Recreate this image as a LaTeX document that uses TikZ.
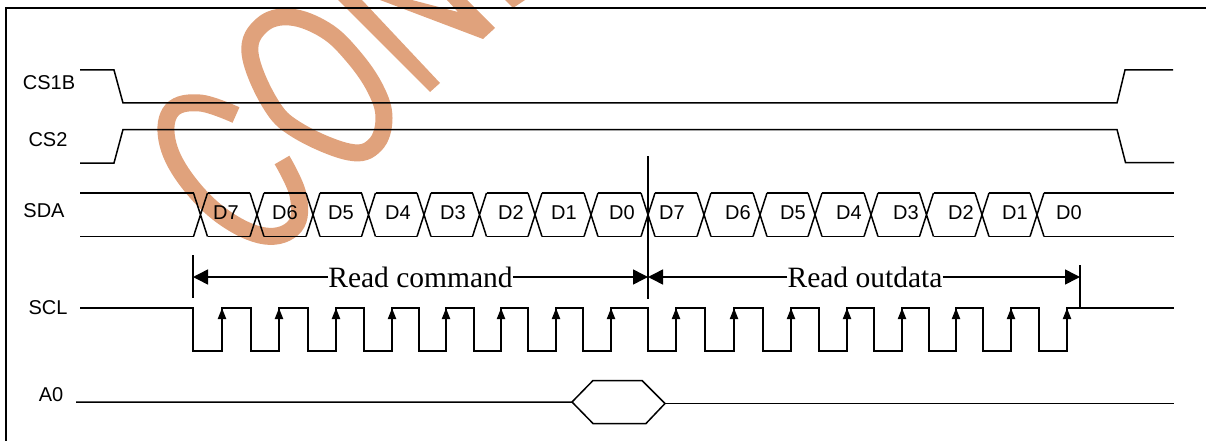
\documentclass[tikz,border=0pt]{standalone}
\usepackage{fontspec}
\setmainfont{Liberation Sans}
\newfontfamily\readfont{Liberation Serif}
\definecolor{stampcol}{RGB}{224, 162, 124}
\usetikzlibrary{arrows.meta, positioning}

\begin{document}
\begin{tikzpicture}[
  x=1pt, y=-1pt,
  sigline/.style={draw, line width=1.5pt, line join=miter},
  stampline/.style={draw=stampcol, line width=17pt},
  siglabel/.style={inner sep=0pt, font=\fontsize{20}{22}\selectfont},
  readlabel/.style={inner sep=0pt, font=\readfont\fontsize{29.5}{32}\selectfont},
  spanarrow/.style={line width=1.5pt, -{Triangle[length=15pt, width=15pt]}},
  edgearrow/.style={line width=2pt, -{Triangle[length=11pt, width=8pt]}}
]
  \useasboundingbox (0,0) rectangle (1206,441);

  % stamp behind the signals
  \draw[stampline] plot[smooth, tension=0.65] coordinates {(236,115) (200,103) (172,110) (167,140) (185,178) (222,216) (265,236) (295,226) (298,195) (282,160)};
  \draw[stampline] plot[smooth cycle, tension=0.65] coordinates {(250,53) (262,25) (290,17) (325,30) (352,55) (375,88) (384,118) (375,145) (349,152) (297,130) (270,103)};
  \fill[stampcol] (338,0) -- (362,0) -- (440,83) -- (430,92) -- cycle;
  \fill[stampcol] (483,39) -- (380,0) -- (412,0) -- (458,12) -- (447,0) -- (467,0) -- (495,28) -- cycle;
  \fill[stampcol] (505,0) -- (525,0) -- (513,8) -- cycle;

  % frame
  \draw[line width=1.7pt] (6,441) -- (6,8) -- (1206,8);

  % labels
  \node[siglabel] (cs1b) at (49,83) {CS1B};
  \node[siglabel] (cs2) at (48,140) {CS2};
  \node[siglabel] (sda) at (44,211) {SDA};
  \node[siglabel] (scl) at (48,308) {SCL};
  \node[siglabel] (a0) at (51,395) {A0};

  % chip selects
  \draw[sigline] (80,70) -- (114,70) -- (123,103) -- (1117,103) -- (1125,70) -- (1173,70);
  \draw[sigline] (80,163) -- (114,163) -- (123,129.5) -- (1117,129.5) -- (1125.5,162.5) -- (1174,162.5);

  % data bus
  \draw[sigline] (80,193) -- (193.5,193) (80,236.5) -- (193.5,236.5);
  \draw[sigline] (1044,193) -- (1174,193) (1044,236.5) -- (1174,236.5);
  \foreach \xa/\xb in {200.5/257, 257/313, 313/368.5, 368.5/424, 424/479.5, 479.5/535, 535/591, 591/648, 648/704, 704/760, 760/815, 815/871, 871/926.5, 926.5/982, 982/1037} {
    \draw[sigline] (\xa+7,193) -- (\xb-7,193) (\xa+7,236.5) -- (\xb-7,236.5);
  }
  \foreach \xa in {200.5, 257, 313, 368.5, 424, 479.5, 535, 591, 648, 704, 760, 815, 871, 926.5, 982, 1037} {
    \draw[sigline] (\xa-7,193) -- (\xa+7,236.5) (\xa+7,193) -- (\xa-7,236.5);
  }
  \foreach \xa/\txt in {226/D7, 285/D6, 341/D5, 398/D4, 453/D3, 511/D2, 564/D1, 622/D0, 672/D7, 738/D6, 793/D5, 849/D4, 906/D3, 961/D2, 1015/D1, 1069/D0} {
    \node[siglabel] (bit\xa) at (\xa,213) {\txt};
  }

  % read spans
  \draw[line width=1.5pt] (193,255) -- (193,298);
  \draw[line width=1.5pt] (648,156) -- (648,299);
  \draw[line width=1.5pt] (1080,265) -- (1080,308);
  \coordinate (cmdstart) at (193,277);
  \coordinate (cmdend) at (648,277);
  \coordinate (outend) at (1080,277);
  \node[readlabel] (cmdtext) at (420.5,277) {Read command};
  \node[readlabel] (outtext) at (865,277) {Read outdata};
  \draw[spanarrow] (cmdtext) -- (cmdstart);
  \draw[spanarrow] (cmdtext) -- (cmdend);
  \draw[spanarrow] (outtext) -- (cmdend);
  \draw[spanarrow] (outtext) -- (outend);

  % clock
  \draw[sigline] (80,308) -- (193,308) -- (193,351) -- (222,351) -- (222,308) -- (251,308) -- (251,351) -- (279,351) -- (279,308) -- (308,308) -- (308,351) -- (336,351) -- (336,308) -- (364,308) -- (364,351) -- (392,351) -- (392,308) -- (419,308) -- (419,351) -- (446,351) -- (446,308) -- (474,308) -- (474,351) -- (501,351) -- (501,308) -- (528,308) -- (528,351) -- (556,351) -- (556,308) -- (583,308) -- (583,351) -- (611,351) -- (611,308) -- (648,308) -- (648,351) -- (676,351) -- (676,308) -- (705,308) -- (705,351) -- (734,351) -- (734,308) -- (763,308) -- (763,351) -- (791,351) -- (791,308) -- (819,308) -- (819,351) -- (847,351) -- (847,308) -- (874,308) -- (874,351) -- (902,351) -- (902,308) -- (929,308) -- (929,351) -- (956,351) -- (956,308) -- (983,308) -- (983,351) -- (1011,351) -- (1011,308) -- (1039,308) -- (1039,351) -- (1067,351) -- (1067,308) -- (1174,308);
  \foreach \xa in {222, 279, 336, 392, 446, 501, 556, 611, 676, 734, 791, 847, 902, 956, 1011, 1067} {
    \draw[edgearrow] (\xa,351) -- (\xa,308);
  }

  % A0
  \draw[sigline] (76,402) -- (572,402) -- (593,380.5) -- (642,380.5) -- (665,403.5) -- (646,423.5) -- (593,423.5) -- (572,402);
  \draw[sigline] (665,403.5) -- (1174,403.5);
\end{tikzpicture}
\end{document}
